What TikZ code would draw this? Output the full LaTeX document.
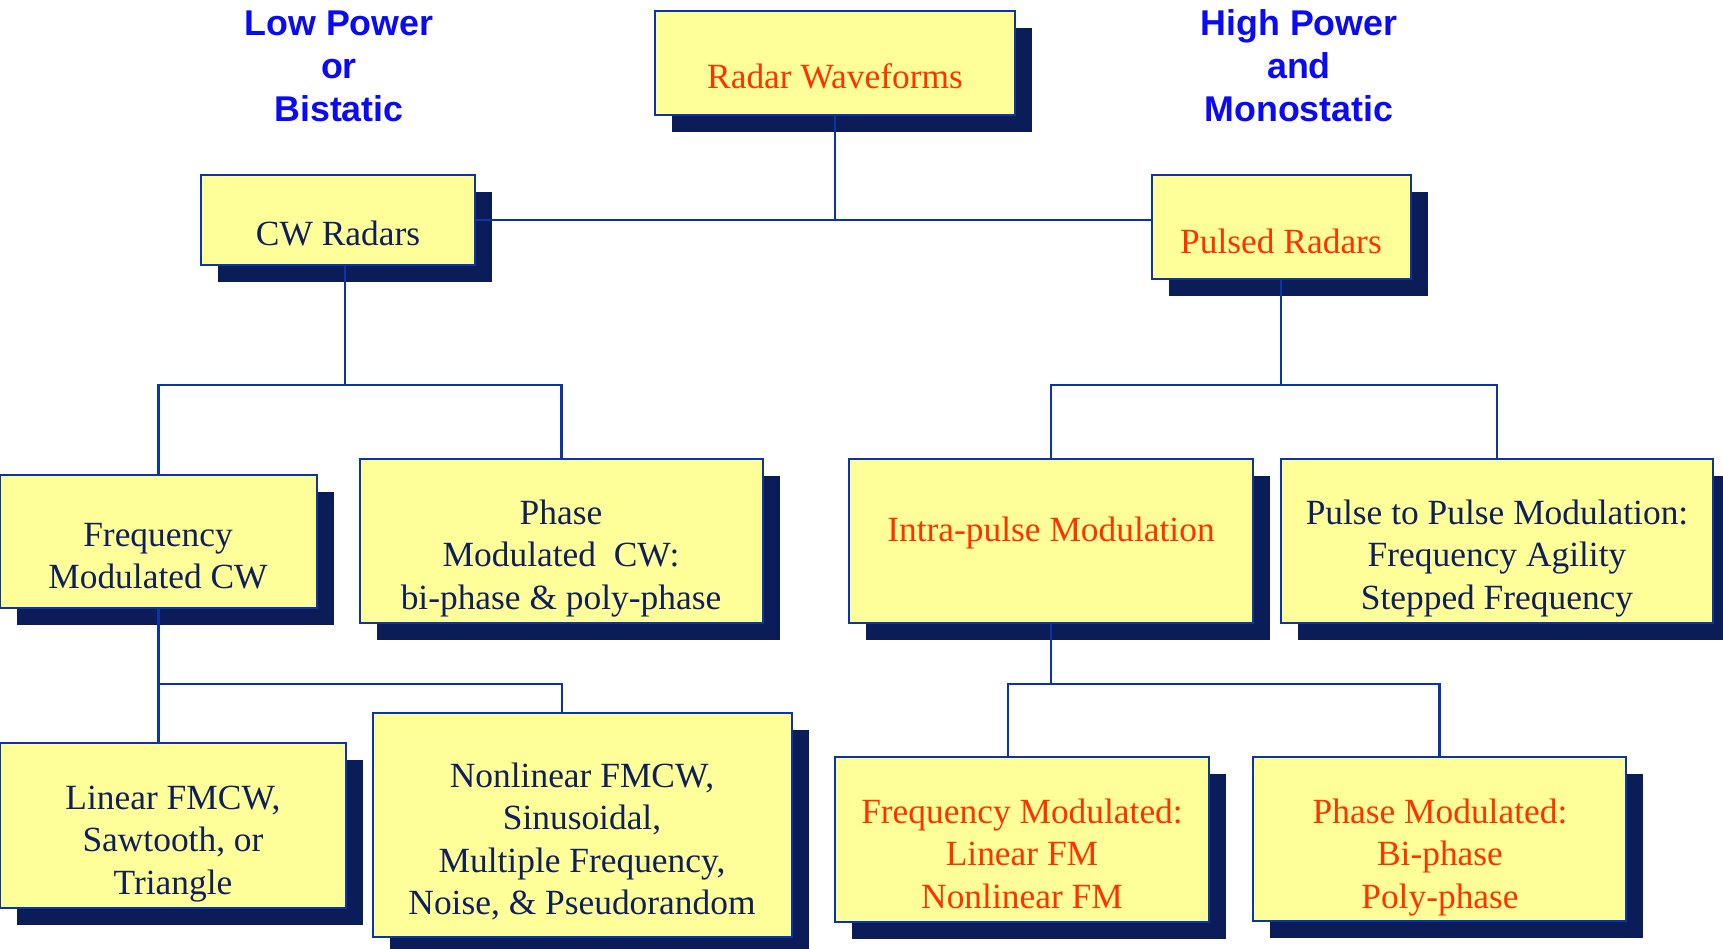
\documentclass[tikz,border=0pt]{standalone}
\usepackage{fontspec}
\setmainfont{Liberation Serif}
\newfontfamily\headfont{Liberation Sans}
\usetikzlibrary{shadows}

\definecolor{paper}{HTML}{FFFF99}
\definecolor{edge}{HTML}{0C34A4}
\definecolor{deep}{HTML}{0B1D58}
\definecolor{ink}{HTML}{0E1F5B}
\definecolor{hot}{HTML}{FF3300}
\definecolor{headblue}{HTML}{0A0AF5}

% several centred lines whose baseline is the first line's
\newcommand\boxlines[1]{\begin{tabular}[t]{@{}c@{}}#1\end{tabular}}

\tikzset{
  box/.style={rectangle, draw=edge, fill=paper, line width=2.6pt,
    inner sep=0pt, outer sep=0pt,
    drop shadow={shadow xshift=17pt, shadow yshift=-17pt, fill=deep, opacity=1}},
  txt/.style={inner sep=0pt, anchor=base, text=ink,
    font=\fontsize{35.4}{42.5}\selectfont},
  hottxt/.style={txt, text=hot},
  head/.style={inner sep=0pt, anchor=base, text=headblue,
    font=\headfont\bfseries\fontsize{35.8}{43}\selectfont},
  wire/.style={draw=edge, line width=2.4pt}
}

\begin{document}
\begin{tikzpicture}[x=1pt, y=-1pt]
\useasboundingbox[fill=white] (0,0) rectangle (1723,949);

% side headings
\node[head] (lowhead) at (339,36) {\boxlines{Low Power\\or\\Bistatic}};
\node[head] (highhead) at (1299,36) {\boxlines{High Power\\and\\Monostatic}};

% boxes
\node[box, minimum width=360pt, minimum height=104pt] (rw) at (835,63) {};
\node[box, minimum width=274pt, minimum height=90pt] (cw) at (338,220) {};
\node[box, minimum width=259pt, minimum height=104pt] (pr) at (1281.5,227) {};
\node[box, minimum width=317pt, minimum height=133pt] (fmcw) at (158.5,541.5) {};
\node[box, minimum width=403pt, minimum height=164pt] (pmcw) at (561.5,541) {};
\node[box, minimum width=404pt, minimum height=164pt] (intra) at (1051,541) {};
\node[box, minimum width=432pt, minimum height=164pt] (ptp) at (1497,541) {};
\node[box, minimum width=346pt, minimum height=165pt] (lin) at (173,825.5) {};
\node[box, minimum width=419pt, minimum height=224pt] (nl) at (582.5,825) {};
\node[box, minimum width=374pt, minimum height=165pt] (fm) at (1022,839.5) {};
\node[box, minimum width=373pt, minimum height=164pt] (pm) at (1439.5,839) {};

% box texts
\node[hottxt] (rw-t) at (835,89) {Radar Waveforms};
\node[txt] (cw-t) at (338,246) {CW Radars};
\node[hottxt] (pr-t) at (1281,254) {Pulsed Radars};
\node[txt] (fmcw-t) at (158,546) {\boxlines{Frequency\\Modulated CW}};
\node[txt] (pmcw-t) at (561,524) {\boxlines{Phase\\Modulated\ \ CW:\\bi-phase \& poly-phase}};
\node[hottxt] (intra-t) at (1051,541) {Intra-pulse Modulation};
\node[txt] (ptp-t) at (1497,524) {\boxlines{Pulse to Pulse Modulation:\\Frequency Agility\\Stepped Frequency}};
\node[txt] (lin-t) at (173,809) {\boxlines{Linear FMCW,\\Sawtooth, or\\Triangle}};
\node[txt] (nl-t) at (582,787) {\boxlines{Nonlinear FMCW,\\Sinusoidal,\\Multiple Frequency,\\Noise, \& Pseudorandom}};
\node[hottxt] (fm-t) at (1022,823) {\boxlines{Frequency Modulated:\\Linear FM\\Nonlinear FM}};
\node[hottxt] (pm-t) at (1440,823) {\boxlines{Phase Modulated:\\Bi-phase\\Poly-phase}};

% junction points of the connectors
\coordinate (cwbus) at (345,385);
\coordinate (prbus) at (1281,385);
\coordinate (fbus) at (562,684);
\coordinate (ibus) at (1008,684);

% connectors
\draw[wire] (rw.south) -- (rw.south |- cw.east);
\draw[wire] (cw.east) -- (cw.east -| pr.west);
\draw[wire] (cw.south -| cwbus) -- (cwbus);
\draw[wire] (fmcw.north) |- (cwbus) -| (pmcw.north);
\draw[wire] (pr.south -| prbus) -- (prbus);
\draw[wire] (intra.north) |- (prbus) -| (ptp.north);
\draw[wire] (fmcw.south) -- (fmcw.south |- lin.north);
\draw[wire] (fmcw.south |- fbus) -- (fbus) -- (fbus |- nl.north);
\draw[wire] (intra.south) -- (intra.south |- ibus);
\draw[wire] (ibus |- fm.north) -- (ibus) -| (pm.north);
\end{tikzpicture}
\end{document}
